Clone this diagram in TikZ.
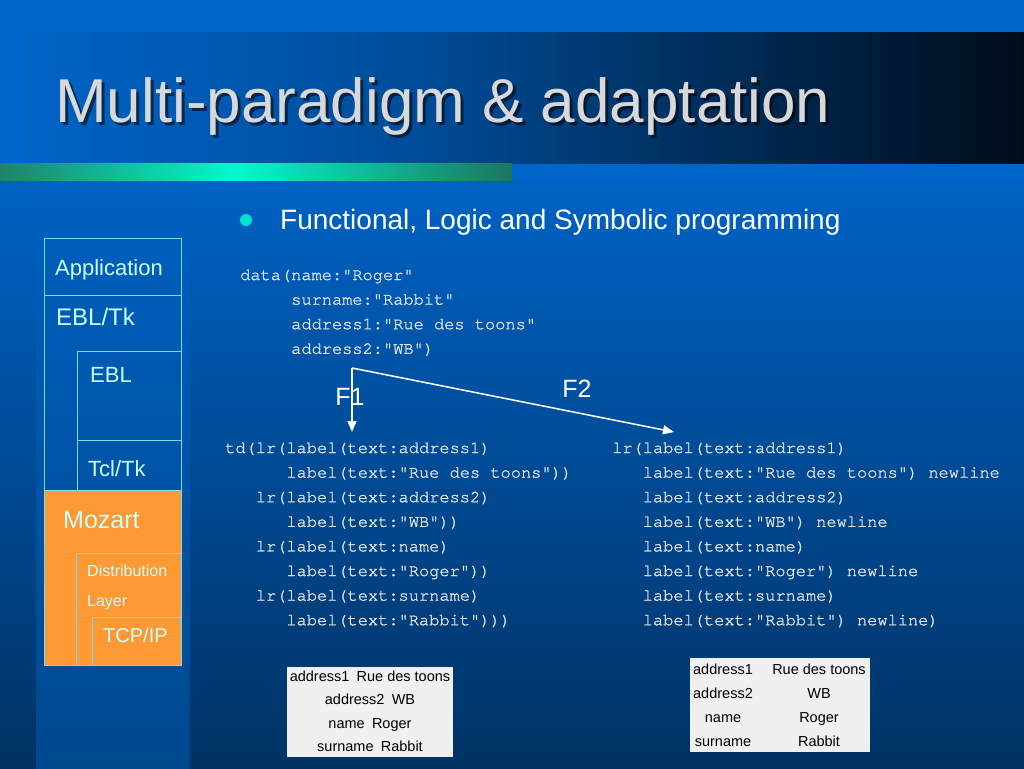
\documentclass[tikz,border=0pt]{standalone}
\usepackage{fontspec}
\setmainfont{Liberation Sans}
\setmonofont[FakeBold=1.2]{TeX Gyre Cursor}
\usetikzlibrary{arrows.meta,positioning}

\definecolor{topblue}{RGB}{0,102,204}
\definecolor{deepblue}{RGB}{0,50,100}
\definecolor{stripblue}{RGB}{0,72,142}
\definecolor{midband}{RGB}{0,78,156}
\definecolor{night}{RGB}{0,12,26}
\definecolor{seagreen}{RGB}{32,130,104}
\definecolor{aqua}{RGB}{0,250,205}
\definecolor{edgecyan}{RGB}{120,222,236}
\definecolor{paletext}{RGB}{200,255,255}
\definecolor{mozorange}{RGB}{255,153,51}
\definecolor{codegray}{RGB}{230,230,230}
\definecolor{titlegray}{RGB}{216,216,216}
\definecolor{tablegray}{RGB}{240,240,240}

\begin{document}
\begin{tikzpicture}[x=1pt,y=-1pt,
    layer/.style={draw=edgecyan, line width=1pt, anchor=north west, inner sep=0pt},
    ltext/.style={text=paletext, anchor=base west, inner sep=0pt},
    code/.style={text=codegray, anchor=base west, inner sep=0pt,
                 font=\ttfamily\fontsize{17}{20}\selectfont},
    cell/.style={text=black, anchor=base, inner sep=0pt, font=\fontsize{14.5}{16}\selectfont},
    flow/.style={white, line width=1.5pt, -{Triangle[width=9pt,length=11pt]}},
    flabel/.style={text=white, inner sep=0pt, font=\fontsize{25}{30}\selectfont}]

% background
\useasboundingbox (0,0) rectangle (1024,768);
\fill[topblue] (0,0) rectangle (1024,180);
\shade[top color=topblue!96!black, bottom color=deepblue] (0,180) rectangle (1024,768);
\shade[top color=topblue!94!black, bottom color=stripblue] (36,195) rectangle (190,768);
\shade[left color=topblue!97!black, right color=midband] (25,33) rectangle (400,163);
\shade[left color=midband, right color=night] (399,33) rectangle (1024,163);
\shade[left color=seagreen, right color=aqua] (0,163) rectangle (236,180);
\shade[left color=aqua, right color=seagreen!90!black] (235,163) rectangle (512,180);

% title
\node[anchor=base west, inner sep=0pt, text=black, opacity=0.55,
      font=\fontsize{62}{70}\selectfont] (titleshadow) at (58,125) {Multi-paradigm \& adaptation};
\node[anchor=base west, inner sep=0pt, text=titlegray,
      font=\fontsize{62}{70}\selectfont] (title) at (55,122) {Multi-paradigm \& adaptation};

% bullet
\node[circle, fill=aqua!90!blue, minimum size=12pt, inner sep=0pt] (dot) at (246,220) {};
\node[anchor=base west, inner sep=0pt, text=white,
      font=\fontsize{28}{32}\selectfont] (topic) at (280,229) {Functional, Logic and Symbolic programming};

% layer stack
\node[layer, minimum width=137pt, minimum height=57pt] (app) at (44,238) {};
\node[layer, minimum width=137pt, minimum height=195pt] (ebltk) at (44,295) {};
\node[layer, minimum width=104pt, minimum height=89pt] (ebl) at (77,351) {};
\node[layer, minimum width=104pt, minimum height=50pt] (tcl) at (77,440) {};
\node[layer, fill=mozorange, minimum width=137pt, minimum height=175pt] (mozart) at (44,490) {};
\node[layer, fill=mozorange, minimum width=105pt, minimum height=112pt] (dist) at (76,553) {};
\node[layer, fill=mozorange, minimum width=89pt, minimum height=48pt] (tcp) at (92,617) {};

\node[ltext, font=\fontsize{22}{24}\selectfont] (applbl) at (55,275) {Application};
\node[ltext, font=\fontsize{24}{26}\selectfont] (ebltklbl) at (56,325) {EBL/Tk};
\node[ltext, font=\fontsize{22}{24}\selectfont] (ebllbl) at (90,382) {EBL};
\node[ltext, font=\fontsize{22}{24}\selectfont] (tcllbl) at (88,476) {Tcl/Tk};
\node[ltext, font=\fontsize{25}{28}\selectfont] (mozlbl) at (63,528) {Mozart};
\node[ltext, font=\fontsize{16}{18}\selectfont] (distlbl) at (87,576) {Distribution};
\node[ltext, font=\fontsize{16}{18}\selectfont] (layerlbl) at (87,606) {Layer};
\node[ltext, font=\fontsize{20}{22}\selectfont] (tcplbl) at (103,642) {TCP/IP};

% source record
\foreach \ind/\txt [count=\i] in {0/data(name:"Roger",
    5/surname:"Rabbit", 5/address1:"Rue des toons", 5/address2:"WB")}
  \node[code] (data\i) at ({240+10.2*\ind},{280+24.6*(\i-1)}) {\txt};

% F1 view
\foreach \ind/\txt [count=\i] in {0/td(lr(label(text:address1),
    6/label(text:"Rue des toons")), 3/lr(label(text:address2),
    6/label(text:"WB")), 3/lr(label(text:name),
    6/label(text:"Roger")), 3/lr(label(text:surname),
    6/label(text:"Rabbit")))}
  \node[code] (td\i) at ({225+10.2*\ind},{453+24.6*(\i-1)}) {\txt};

% F2 view
\foreach \ind/\txt [count=\i] in {0/lr(label(text:address1),
    3/label(text:"Rue des toons") newline, 3/label(text:address2),
    3/label(text:"WB") newline, 3/label(text:name),
    3/label(text:"Roger") newline, 3/label(text:surname),
    3/label(text:"Rabbit") newline)}
  \node[code] (lr\i) at ({612+10.2*\ind},{453+24.6*(\i-1)}) {\txt};

% arrows
\coordinate (fork) at (352,368);
\coordinate (f1end) at (352,432);
\coordinate (f2end) at (674,432);
\draw[flow] (fork) -- (f1end);
\draw[flow] (fork) -- (f2end);
\node[flabel] (f1) at (350,397) {F1};
\node[flabel] (f2) at (577,389) {F2};

% rendered results
\node[fill=tablegray, anchor=north west, inner sep=0pt,
      minimum width=166pt, minimum height=90pt] (tabA) at (287,667) {};
\node[fill=tablegray, anchor=north west, inner sep=0pt,
      minimum width=180pt, minimum height=94pt] (tabB) at (690,658) {};
\foreach \k/\v [count=\i] in {address1/Rue des toons, address2/WB, name/Roger, surname/Rabbit} {
  \node[cell] (rowA\i) at (370,{681+23.5*(\i-1)}) {\k\enspace\v};
  \node[cell] (key\i) at (723,{674+24*(\i-1)}) {\k};
  \node[cell] (val\i) at (819,{674+24*(\i-1)}) {\v};
}
\end{tikzpicture}
\end{document}
